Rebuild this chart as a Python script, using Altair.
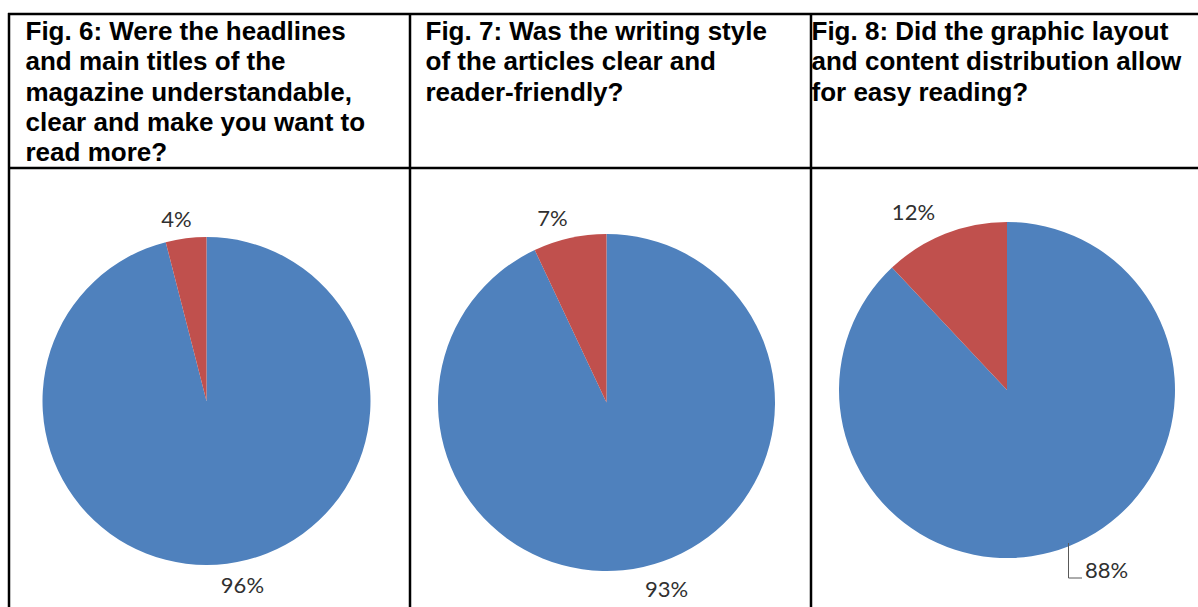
import altair as alt
import pandas as pd
import math

# ---- data ----
figs = ["Fig. 6", "Fig. 7", "Fig. 8"]
yes_pct = [96, 93, 88]
no_pct = [4, 7, 12]
categories = ["Yes", "No"]
titles = [
    ["Fig. 6: Were the headlines", "and main titles of the", "magazine understandable,",
     "clear and make you want to", "read more?"],
    ["Fig. 7: Was the writing style", "of the articles clear and", "reader-friendly?"],
    ["Fig. 8: Did the graphic layout", "and content distribution allow", "for easy reading?"],
]

rows = []
for f, y, n in zip(figs, yes_pct, no_pct):
    rows.append({"fig": f, "cat": "Yes", "idx": 0, "value": y, "label": f"{y}%"})
    rows.append({"fig": f, "cat": "No", "idx": 1, "value": n, "label": f"{n}%"})
df = pd.DataFrame(rows)

# ---- layout (pixels) ----
W, H = 1198, 607
col_x = [9, 410, 811]
top_y, head_y = 14, 168
title_x = [25.5, 425.5, 811.5]
pie_cx = [206.5, 606.5, 1007]
pie_cy = [401, 402.5, 390]
pie_r = [164, 168.5, 168]
lab_r = [186, 194, 203]
lab_off = [-3.0, -4.5, -6.8]  # degrees

one = pd.DataFrame({"a": [0]})
layers = []

color = alt.Color("cat:N", scale=alt.Scale(domain=categories, range=["#4F81BD", "#C0504D"]), legend=None)

for i, f in enumerate(figs):
    base = alt.Chart(df).transform_filter(alt.datum.fig == f).encode(
        theta=alt.Theta("value:Q", stack=True, scale=alt.Scale(domain=[0, 100])),
        order=alt.Order("idx:Q"),
        x=alt.value(pie_cx[i]),
        y=alt.value(pie_cy[i]),
    )
    layers.append(base.mark_arc(outerRadius=pie_r[i]).encode(color=color))
    layers.append(
        base.mark_text(radius=lab_r[i], thetaOffset=math.radians(lab_off[i]), font="Lato",
                       fontSize=22, color="#303030", align="center", baseline="middle",
                       dx=3, dy=2)
        .encode(text="label:N", detail="cat:N")
    )
    tdf = pd.DataFrame({"t": ["\n".join(titles[i])]})
    layers.append(
        alt.Chart(tdf).mark_text(font="Liberation Sans", fontWeight="bold", fontSize=26,
                                 lineHeight=30.3, lineBreak="\n", align="left",
                                 baseline="alphabetic", color="black")
        .encode(text="t:N", x=alt.value(title_x[i]), y=alt.value(40))
    )

# table lines
for cx in col_x:
    layers.append(alt.Chart(one).mark_rule(color="black", strokeWidth=2.5).encode(
        x=alt.value(cx), y=alt.value(top_y - 1), y2=alt.value(H)))
for hy in [top_y, head_y]:
    layers.append(alt.Chart(one).mark_rule(color="black", strokeWidth=2.5).encode(
        x=alt.value(col_x[0] - 1), x2=alt.value(W), y=alt.value(hy)))

# leader line for 88%
layers.append(alt.Chart(one).mark_rule(color="#595959", strokeWidth=1).encode(
    x=alt.value(1068.5), y=alt.value(543), y2=alt.value(578)))
layers.append(alt.Chart(one).mark_rule(color="#595959", strokeWidth=1).encode(
    x=alt.value(1068.5), x2=alt.value(1082), y=alt.value(578)))

chart = alt.layer(*layers).properties(
    width=W, height=H, padding=0, autosize=alt.AutoSizeParams(type="none"),
    background="white",
).configure_view(stroke=None)

chart.save("out.html", embed_options={"renderer": "svg", "actions": False})
